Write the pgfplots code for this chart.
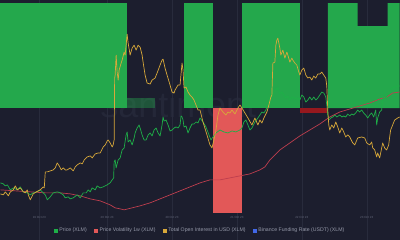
\documentclass[border=0pt]{standalone}
\usepackage{pgfplots}
\pgfplotsset{compat=1.18}
\usepackage{fontspec}
\setmainfont{Liberation Sans}
\definecolor{bg}{RGB}{28,30,46}
\definecolor{cwm}{RGB}{36,39,56}
\definecolor{cbar}{RGB}{36,168,76}
\definecolor{cred}{RGB}{226,88,88}
\definecolor{cdred}{RGB}{150,24,30}
\definecolor{cprice}{RGB}{30,176,72}
\definecolor{coi}{RGB}{216,168,58}
\definecolor{cvol}{RGB}{190,62,78}
\definecolor{cblue}{RGB}{66,104,232}
\definecolor{ctick}{RGB}{100,104,122}
\definecolor{ltxt}{RGB}{150,154,170}
\definecolor{cgrid}{RGB}{40,43,60}
\begin{document}
\begin{tikzpicture}
\fill[bg] (0pt,0pt) rectangle (400pt,240pt);
\node[anchor=base west, font=\fontsize{36}{36}\selectfont, text=cwm, inner sep=0pt] at (100pt,122pt) {santiment};
\begin{axis}[
  at={(0pt,0pt)}, anchor=south west,
  scale only axis, width=400pt, height=240pt,
  xmin=0, xmax=400, ymin=0, ymax=240, y dir=reverse,
  axis line style={draw=none},
  major tick length=0pt,
  ytick=\empty,
  xtick={39,107,172,237,302,367},
  xticklabels={19 Oct 23,20 Oct 23,20 Oct 23,21 Oct 23,22 Oct 23,23 Oct 23},
  xticklabel style={font=\fontsize{3}{3.5}\selectfont, text=ctick, anchor=center, yshift=22pt},
  xmajorgrids, grid style={cgrid, line width=0.4pt},
  legend style={at={(0.5,0.0375)}, anchor=center, draw=none, fill=none,
    font=\fontsize{5.2}{6}\selectfont, text=ltxt, legend columns=4,
    /tikz/every even column/.append style={column sep=5pt}},
  legend cell align=left,
  clip=false,
]
% Binance funding rate (bars, pixel scale: zero at 108)
\addplot[fill=cbar, draw=none, forget plot] coordinates {(0,108) (0,3) (127,3) (127,108)} --cycle;
\addplot[fill=cbar, fill opacity=0.4, draw=none, forget plot] coordinates {(127,108) (127,98) (155,98) (155,108)} --cycle;
\addplot[fill=cbar, draw=none, forget plot] coordinates {(184,108) (184,3) (213,3) (213,108)} --cycle;
\addplot[fill=cred, draw=none, forget plot] coordinates {(213,108) (213,213) (242,213) (242,108)} --cycle;
\addplot[fill=cbar, draw=none, forget plot] coordinates {(242,108) (242,3) (300,3) (300,108)} --cycle;
\addplot[fill=cdred, draw=none, forget plot] coordinates {(300,108) (300,113) (328,113) (328,108)} --cycle;
\addplot[fill=cbar, draw=none, forget plot] coordinates {(328,108) (328,3) (358,3) (358,26) (388,26) (388,3) (400,3) (400,108)} --cycle;
% Price volatility 1w
\addplot[cvol, line width=0.7pt, forget plot] coordinates {
(0,190) (15,191) (30,192) (45,193) (60,193) (70,194) (80,196) (90,199) (100,201) (110,205) (115,208) (120,209) (124,210) (128,209) (132,208) (140,206) (150,203) (160,199) (170,195) (180,191) (190,187) (200,183) (210,180) (220,180) (230,178) (240,176) (250,174) (260,170) (265,167) (270,160) (275,155) (280,150) (290,143) (300,136) (310,130) (320,124) (330,117) (340,112) (350,109) (360,106) (370,103) (380,99) (387,97) (393,93) (400,92)};
% Price
\addplot[cprice, line width=0.7pt, line join=round, forget plot] coordinates {
(0,183) (3,184) (5,186) (7,185) (10,190) (13,188) (17,190) (20,187) (23,192) (27,193) (30,195) (33,193) (37,192) (40,190) (43,193) (45,195) (47,200) (50,197) (53,193) (57,192) (60,193) (63,195) (65,198) (68,197) (70,199) (73,198) (77,195) (80,198) (83,193) (86,193) (88,190) (90,192) (92,188) (95,190) (97,186) (100,188) (103,187) (107,185) (110,183) (112,180) (113.5,178) (114,162) (115,160) (116,168) (118,160) (120,158) (122,150) (124,148) (126,135) (127,132) (128,142) (130,140) (132,145) (134,138) (135,133) (137,128) (139,125) (140,128) (142,135) (144,140) (146,140) (148,135) (150,133) (152,136) (154,130) (156,128) (158,133) (160,136) (162,125) (163,117) (164,121) (166,120) (168,125) (170,131) (172,130) (174,128) (176,127) (178,128) (180,125) (181,116) (182,117) (183,120) (184,127) (186,126) (188,133) (190,128) (192,124) (194,124) (196,122) (198,123) (200,118) (203,122) (206,127) (209,135) (211,140) (213,137) (216,133) (220,130) (224,132) (228,133) (232,131) (236,132) (240,130) (242,128) (244,122) (246,120) (248,125) (250,130) (252,128) (255,122) (258,118) (260,115) (262,112) (264,113) (266,110) (268,103) (270,98) (272,97) (274,92) (276,88) (277,90) (278,87) (280,94) (282,92) (284,95) (286,98) (288,96) (290,100) (292,97) (294,98) (296,99) (298,98) (300,100) (302,95) (304,97) (306,102) (308,100) (310,97) (312,100) (314,97) (316,100) (318,98) (320,95) (322,92) (324,93) (326,97) (327,105) (328,115) (329,120) (331,118) (333,117) (335,115) (337,117) (340,115) (342,117) (344,116) (346,117) (348,114) (350,116) (352,114) (354,115) (356,113) (358,110) (360,112) (362,110) (364,113) (366,115) (368,118) (370,115) (372,113) (374,117) (376,110) (377,125) (378,118) (380,112) (382,110) (383,100) (384,96) (386,98) (388,95) (390,92) (392,88) (395,87) (398,86) (400,86)};
% Total open interest in USD
\addplot[coi, line width=0.7pt, line join=round, forget plot] coordinates {
(0,194) (3,195) (5,192) (8,196) (10,192) (13,190) (15,186) (17,190) (20,188) (23,192) (25,193) (27,190) (28,195) (30,200) (33,194) (36,192) (40,190) (43,187) (44,188) (45,172) (47,172) (50,171) (53,170) (55,168) (57,163) (59,166) (61,170) (63,168) (65,170) (67,170) (70,168) (73,171) (75,167) (77,165) (80,163) (82,164) (84,160) (87,157) (90,156) (92,158) (95,154) (98,153) (100,153) (103,147) (105,145) (107,141) (108,140) (110,143) (112,147) (113,145) (114,140) (114.5,78) (115,75) (116,55) (117,72) (118,80) (119,70) (121,63) (122,60) (124,52) (125,55) (126,45) (127,34) (128,43) (130,55) (132,48) (134,45) (136,50) (138,45) (140,47) (142,55) (143,62) (145,75) (147,83) (150,84) (152,80) (155,78) (157,73) (160,65) (162,60) (163,59) (165,68) (167,75) (170,85) (172,92) (174,93) (175,90) (178,85) (180,85) (182,63) (183,70) (184,88) (186,87) (188,92) (190,95) (192,97) (194,100) (196,105) (198,110) (200,110) (203,122) (207,135) (210,145) (212,148) (214,140) (216,130) (218,115) (220,108) (223,112) (226,115) (228,112) (230,113) (232,110) (235,114) (238,108) (240,105) (242,108) (245,113) (248,118) (252,125) (255,118) (258,125) (260,120) (262,123) (264,118) (267,112) (269,105) (271,97) (272,95) (273,63) (275,62) (276,45) (277,40) (278,38) (280,48) (281,55) (283,50) (285,58) (287,52) (288,55) (290,62) (292,58) (293,60) (295,63) (297,65) (299,72) (300,75) (302,70) (304,68) (306,75) (308,78) (310,77) (312,80) (314,76) (316,78) (318,74) (320,74) (322,72) (324,75) (326,78) (327,86) (328,110) (329,125) (330,130) (332,125) (334,128) (336,122) (338,127) (340,133) (342,128) (344,132) (346,137) (348,135) (350,137) (353,143) (355,145) (358,138) (362,137) (365,138) (367,143) (370,145) (372,142) (373,148) (375,150) (377,157) (378,153) (380,158) (382,148) (383,143) (385,148) (387,150) (389,145) (390,137) (391,130) (393,125) (395,120) (398,118) (400,117)};
\addlegendimage{legend image code/.code={\fill[cprice] (0pt,-1.7pt) rectangle (3.4pt,1.7pt);}}
\addlegendimage{legend image code/.code={\fill[cred] (0pt,-1.7pt) rectangle (3.4pt,1.7pt);}}
\addlegendimage{legend image code/.code={\fill[coi] (0pt,-1.7pt) rectangle (3.4pt,1.7pt);}}
\addlegendimage{legend image code/.code={\fill[cblue] (0pt,-1.7pt) rectangle (3.4pt,1.7pt);}}
\legend{Price (XLM), Price Volatility 1w (XLM), Total Open Interest in USD (XLM), Binance Funding Rate (USDT) (XLM)}
\end{axis}
\end{tikzpicture}
\end{document}
